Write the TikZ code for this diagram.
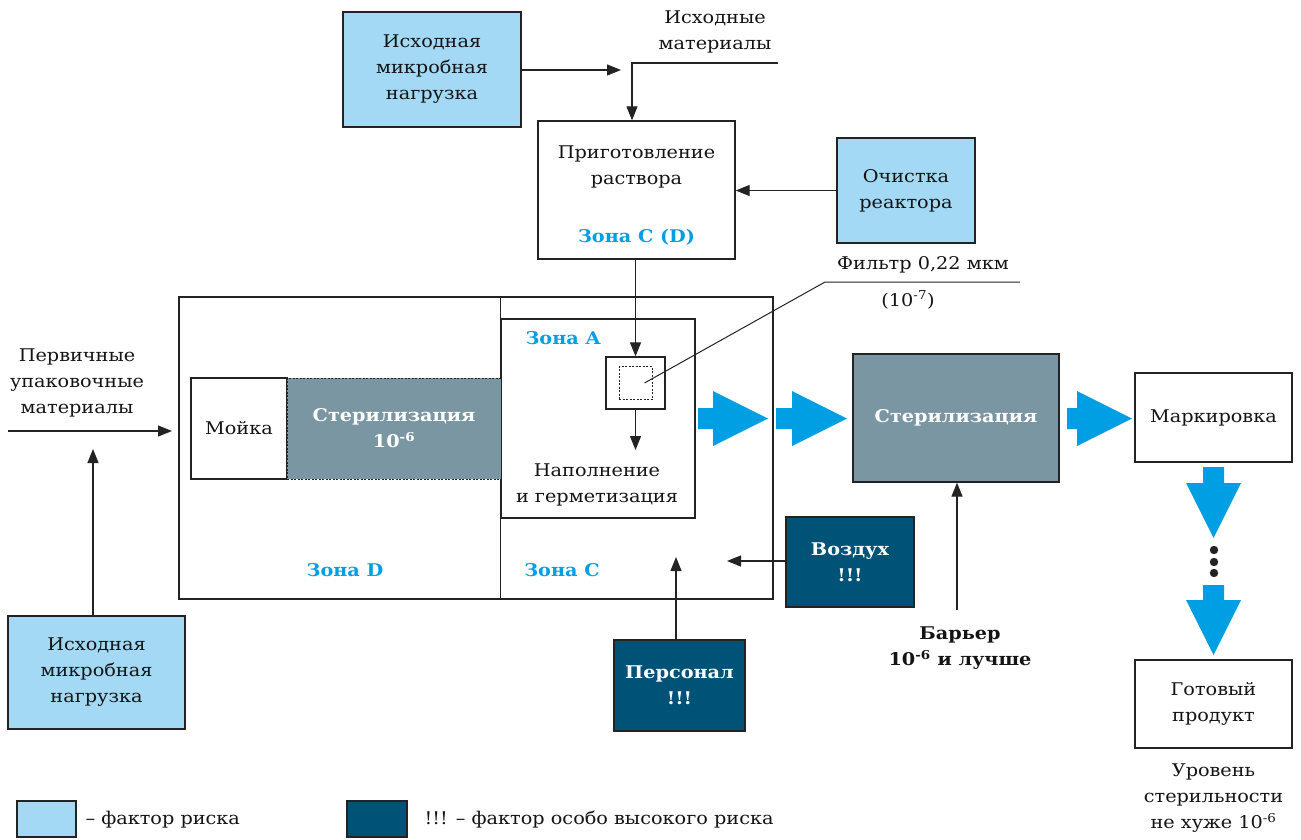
\documentclass[tikz,border=0pt]{standalone}
\usepackage{fontspec}
\setmainfont{DejaVu Serif}[FakeStretch=1.1]
\usetikzlibrary{arrows.meta,positioning,calc}
\definecolor{riskblue}{RGB}{163,217,245}
\definecolor{hiblue}{RGB}{0,82,119}
\definecolor{sterigray}{RGB}{122,150,162}
\definecolor{zoneblue}{RGB}{0,159,227}
\definecolor{linegray}{RGB}{35,35,35}
\definecolor{inkblack}{RGB}{20,20,20}
\newcommand\bodyfont{\fontsize{17.5}{26}\selectfont}
\newcommand\boldfont{\fontsize{17.5}{26}\selectfont\bfseries}
\tikzset{
  every node/.style={font=\bodyfont,align=center,text=inkblack},
  box/.style={draw=linegray,line width=1.3pt,fill=white,inner sep=0pt},
  risk/.style={box,fill=riskblue},
  highrisk/.style={box,fill=hiblue,text=white,font=\boldfont},
  steri/.style={box,fill=sterigray,text=white,font=\boldfont},
  zone/.style={text=zoneblue,font=\boldfont},
  link/.style={line width=1.2pt,draw=linegray,-{Triangle[length=14pt,width=11pt]}},
  flow/.style={fill=zoneblue},
}
\begin{document}
\begin{tikzpicture}[x=1pt,y=-1pt]
  \useasboundingbox (0,0) rectangle (1301,839);
  % sources and preparation
  \node[risk,minimum width=178pt,minimum height=115pt] (loadtop) at (432,69.5) {Исходная\\микробная\\нагрузка};
  \node (rawmat) at (715,32) {Исходные\\материалы};
  \coordinate (rawin) at (778,63);
  \coordinate (rawturn) at (632,63);
  \coordinate (loadend) at (621,70);
  \node[box,minimum width=197pt,minimum height=138pt] (prep) at (636.5,190) {};
  \node (preptext) at (636.5,167) {Приготовление\\раствора};
  \node[zone] (prepzone) at (636.5,237) {Зона C (D)};
  \node[risk,minimum width=138pt,minimum height=105pt] (clean) at (906,190.5) {Очистка\\реактора};
  \draw[link] (loadtop.east |- loadend) -- (loadend);
  \draw[link] (rawin) -- (rawturn) -- (rawturn |- prep.north);
  \draw[link] (clean.west) -- (clean.west -| prep.east);

  % clean room
  \node[box,fill=none,minimum width=594pt,minimum height=302pt] (room) at (476,448) {};
  \node[box,fill=none,minimum width=194pt,minimum height=199pt] (zonea) at (598,418.5) {};
  \draw[line width=1.3pt,linegray] (room.north -| zonea.west) -- (room.south -| zonea.west);
  \node[zone] (zoneatext) at (563,338) {Зона A};
  \node[zone] (zonedtext) at (345,570) {Зона D};
  \node[zone] (zonectext) at (562,570) {Зона C};
  \node[box,minimum width=59pt,minimum height=52pt] (filter) at (635.5,383) {};
  \node[draw=linegray,line width=1pt,dash pattern=on 2pt off 1.5pt,inner sep=0pt,minimum size=33pt] (membrane) at (filter.center) {};
  \draw[link] (prep.south -| filter.north) -- (filter.north);
  \node (filltext) at (597,485) {Наполнение\\и герметизация};
  \coordinate (fillin) at (635.5,450);
  \draw[link] (filter.south) -- (fillin);
  \node (filtertext) at (923,265) {Фильтр 0,22 мкм};
  \node (filterlog) at (908,300) {(10\textsuperscript{-7})};
  \coordinate (leadend) at (1020,282);
  \coordinate (leadknee) at (825,282);
  \draw[line width=1pt,linegray] (leadend) -- (leadknee) -- ($(membrane.center)+(9,0)$);
  \node[box,minimum width=96pt,minimum height=101pt] (wash) at (239,428.5) {Мойка};
  \node[steri,line width=1pt,dash pattern=on 2pt off 1.5pt,minimum width=214pt,minimum height=101pt] (steri) at (394,428.5) {Стерилизация\\10\textsuperscript{-6}};

  % packaging
  \node (packtext) at (77,383) {Первичные\\упаковочные\\материалы};
  \coordinate (packin) at (8,431);
  \coordinate (packend) at (172,431);
  \draw[link] (packin) -- (packend);
  \node[risk,minimum width=177pt,minimum height=113pt] (loadleft) at (96.5,672.5) {Исходная\\микробная\\нагрузка};
  \coordinate (loadleftend) at (93,449);
  \draw[link] (loadleftend |- loadleft.north) -- (loadleftend);

  % flow to product
  \foreach \sx/\bx in {698/713,776/792,1067/1077}
    \fill[flow] (\sx,408) -- (\bx,408) -- (\bx,391) -- (\bx+55,418.5) -- (\bx,446) -- (\bx,429) -- (\sx,429) -- cycle;
  \node[steri,minimum width=206pt,minimum height=128pt] (steriend) at (956,418) {Стерилизация};
  \node[box,minimum width=157pt,minimum height=89pt] (mark) at (1213.5,417.5) {Маркировка};
  \foreach \sy/\by in {467/483,585/600}
    \fill[flow] (1203,\sy) -- (1203,\by) -- (1186,\by) -- (1213.5,\by+55) -- (1241,\by) -- (1224,\by) -- (1224,\sy) -- cycle;
  \foreach \dy in {550,562,573}
    \fill[linegray] (1214,\dy) circle (4.2pt);
  \node[box,minimum width=157pt,minimum height=88pt] (product) at (1213.5,704) {Готовый\\продукт};
  \node (level) at (1213.5,798) {Уровень\\стерильности\\не хуже 10\textsuperscript{-6}};

  % risks
  \node[highrisk,minimum width=128pt,minimum height=90pt] (air) at (850,562) {Воздух\\!!!};
  \coordinate (airend) at (727,561);
  \draw[link] (air.west |- airend) -- (airend);
  \node[highrisk,minimum width=131pt,minimum height=91pt] (staff) at (679.5,685.5) {Персонал\\!!!};
  \coordinate (staffend) at (676,557);
  \draw[link] (staffend |- staff.north) -- (staffend);
  \node[font=\boldfont] (barrier) at (960,648) {Барьер\\10\textsuperscript{-6} и лучше};
  \coordinate (barrierin) at (957,610);
  \draw[link] (barrierin) -- (barrierin |- steriend.south);

  % legend
  \node[risk,minimum width=59pt,minimum height=36pt] (keyrisk) at (46.5,819) {};
  \node[anchor=west] (keyrisktext) at (82,820) {– фактор риска};
  \node[box,fill=hiblue,minimum width=60pt,minimum height=36pt] (keyhigh) at (377,819) {};
  \node[anchor=west] (keyhightext) at (421,820) {!!! – фактор особо высокого риска};
\end{tikzpicture}
\end{document}
